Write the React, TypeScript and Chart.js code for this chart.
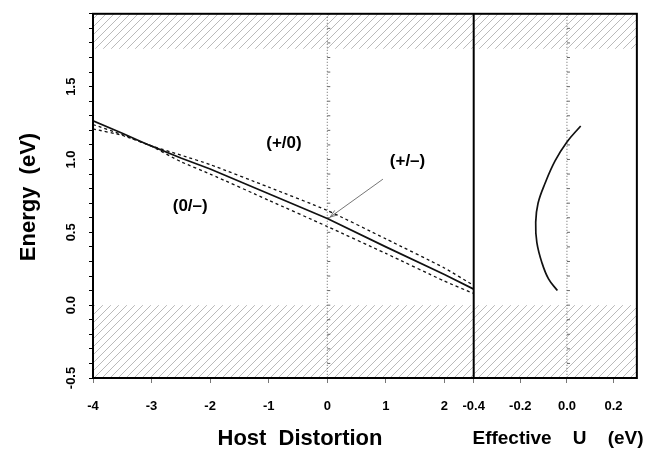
import React, { useEffect, useRef } from 'react';
import { Chart, registerables } from 'chart.js';

Chart.register(...registerables);

// ---- data ----
const hostDistortion = [-4, -3.5, -3.05, -2.5, -2, -1, 0, 1, 2, 2.5];
const levelPlusMinus = [1.265, 1.18, 1.1, 1.01, 0.935, 0.765, 0.595, 0.4, 0.21, 0.11];
const levelPlusZero = [1.24, 1.17, 1.1, 1.03, 0.965, 0.81, 0.65, 0.455, 0.255, 0.135];
const levelZeroMinus = [1.21, 1.165, 1.1, 0.985, 0.9, 0.72, 0.54, 0.355, 0.165, 0.08];

const effectiveU = [0.059, 0.0, -0.051, -0.093, -0.124, -0.134, -0.129, -0.107, -0.079, -0.041];
const effectiveUEnergy = [1.23, 1.12, 0.99, 0.84, 0.7, 0.57, 0.43, 0.29, 0.18, 0.1];

const energyTickLabels = [-0.5, 0, 0.5, 1.0, 1.5];
const hostTickLabels = [-4, -3, -2, -1, 0, 1, 2];
const uTickLabels = [-0.4, -0.2, 0.0, 0.2];

const valenceBandTop = 0;
const conductionBandBottom = 1.76;

const levelLabelTexts = ['(+/0)', '(0/–)', '(+/–)'];
const levelLabelX = [-0.74, -2.34, 1.37];
const levelLabelY = [1.11, 0.68, 0.99];
const arrowFrom = { x: 0.95, y: 0.865 };
const arrowTo = { x: 0.05, y: 0.605 };

const FONT = "'Liberation Sans', Arial, Helvetica, sans-serif";

function makeHatch(): CanvasPattern | string {
  const c = document.createElement('canvas');
  c.width = 8;
  c.height = 8;
  const g = c.getContext('2d');
  if (!g) return '#ddd';
  g.strokeStyle = '#a8a8a8';
  g.lineWidth = 0.8;
  g.beginPath();
  g.moveTo(0, 8);
  g.lineTo(8, 0);
  g.moveTo(-1, 1);
  g.lineTo(1, -1);
  g.moveTo(7, 9);
  g.lineTo(9, 7);
  g.stroke();
  const p = g.createPattern(c, 'repeat');
  return p || '#ddd';
}

const decorPlugin = {
  id: 'decor',
  beforeDatasetsDraw(chart: any) {
    const { ctx, chartArea } = chart;
    const y = chart.scales.y;
    const x1 = chart.scales.x1;
    const x2 = chart.scales.x2;
    ctx.save();
    const hatch = makeHatch();
    ctx.fillStyle = hatch;
    const y0 = y.getPixelForValue(valenceBandTop);
    const y1 = y.getPixelForValue(conductionBandBottom);
    ctx.fillRect(chartArea.left, y0, chartArea.right - chartArea.left, chartArea.bottom - y0);
    ctx.fillRect(chartArea.left, chartArea.top, chartArea.right - chartArea.left, y1 - chartArea.top);

    const zeros = [x1.getPixelForValue(0), x2.getPixelForValue(0)];
    ctx.strokeStyle = '#666';
    ctx.lineWidth = 1;
    for (const zx of zeros) {
      ctx.setLineDash([1, 2]);
      ctx.beginPath();
      ctx.moveTo(zx, chartArea.top);
      ctx.lineTo(zx, chartArea.bottom);
      ctx.stroke();
      ctx.setLineDash([]);
      ctx.beginPath();
      for (const t of y.ticks) {
        const py = y.getPixelForValue(t.value);
        ctx.moveTo(zx, py);
        ctx.lineTo(zx + 3, py);
      }
      ctx.stroke();
    }
    ctx.restore();
  },
  afterDatasetsDraw(chart: any) {
    const { ctx, chartArea } = chart;
    const y = chart.scales.y;
    const x1 = chart.scales.x1;
    ctx.save();
    ctx.strokeStyle = '#000';
    ctx.lineWidth = 2;
    ctx.strokeRect(chartArea.left, chartArea.top, chartArea.right - chartArea.left, chartArea.bottom - chartArea.top);
    ctx.beginPath();
    ctx.moveTo(x1.right, chartArea.top);
    ctx.lineTo(x1.right, chartArea.bottom);
    ctx.stroke();

    ctx.fillStyle = '#000';
    ctx.font = `bold 17px ${FONT}`;
    ctx.textAlign = 'center';
    ctx.textBaseline = 'middle';
    levelLabelTexts.forEach((t, i) => {
      ctx.fillText(t, x1.getPixelForValue(levelLabelX[i]), y.getPixelForValue(levelLabelY[i]));
    });

    const ax0 = x1.getPixelForValue(arrowFrom.x);
    const ay0 = y.getPixelForValue(arrowFrom.y);
    const ax1 = x1.getPixelForValue(arrowTo.x);
    const ay1 = y.getPixelForValue(arrowTo.y);
    ctx.strokeStyle = '#666';
    ctx.lineWidth = 0.9;
    ctx.beginPath();
    ctx.moveTo(ax0, ay0);
    ctx.lineTo(ax1, ay1);
    const ang = Math.atan2(ay1 - ay0, ax1 - ax0);
    const hl = 8;
    ctx.moveTo(ax1 - hl * Math.cos(ang - 0.35), ay1 - hl * Math.sin(ang - 0.35));
    ctx.lineTo(ax1, ay1);
    ctx.lineTo(ax1 - hl * Math.cos(ang + 0.35), ay1 - hl * Math.sin(ang + 0.35));
    ctx.stroke();
    ctx.restore();
  },
  afterDraw(chart: any) {
    const { ctx } = chart;
    ctx.save();
    ctx.fillStyle = '#000';
    ctx.textAlign = 'center';
    ctx.textBaseline = 'middle';
    ctx.font = `bold 22px ${FONT}`;
    ctx.fillText('Host  Distortion', 300, 439);
    ctx.save();
    ctx.translate(29, 197);
    ctx.rotate(-Math.PI / 2);
    ctx.fillText('Energy  (eV)', 0, 0);
    ctx.restore();
    ctx.font = `bold 19px ${FONT}`;
    ctx.fillText('Effective    U    (eV)', 558, 439);
    ctx.restore();
  },
};

export default function App() {
  const ref = useRef<HTMLCanvasElement | null>(null);

  useEffect(() => {
    if (!ref.current) return;
    const tickFont = { family: FONT, size: 13, weight: 'bold' as const };
    const chart = new Chart(ref.current, {
      type: 'line',
      data: {
        datasets: [
          {
            label: '(+/-)',
            data: hostDistortion.map((x, i) => ({ x, y: levelPlusMinus[i] })),
            xAxisID: 'x1',
            yAxisID: 'y',
            borderColor: '#111',
            borderWidth: 1.7,
            pointRadius: 0,
            tension: 0,
          },
          {
            label: '(+/0)',
            data: hostDistortion.map((x, i) => ({ x, y: levelPlusZero[i] })),
            xAxisID: 'x1',
            yAxisID: 'y',
            borderColor: '#111',
            borderWidth: 1.3,
            borderDash: [3, 3],
            pointRadius: 0,
            tension: 0.2,
          },
          {
            label: '(0/-)',
            data: hostDistortion.map((x, i) => ({ x, y: levelZeroMinus[i] })),
            xAxisID: 'x1',
            yAxisID: 'y',
            borderColor: '#111',
            borderWidth: 1.3,
            borderDash: [3, 3],
            pointRadius: 0,
            tension: 0.2,
          },
          {
            label: 'U',
            data: effectiveU.map((x, i) => ({ x, y: effectiveUEnergy[i] })),
            xAxisID: 'x2',
            yAxisID: 'y',
            borderColor: '#111',
            borderWidth: 1.7,
            pointRadius: 0,
            tension: 0.4,
          },
        ],
      },
      options: {
        animation: false,
        responsive: false,
        devicePixelRatio: 1,
        layout: { padding: { top: 6, right: 7, left: 0, bottom: 0 } },
        plugins: { legend: { display: false }, tooltip: { enabled: false } },
        scales: {
          x1: {
            type: 'linear',
            position: 'bottom',
            stack: 'bottom',
            stackWeight: 7,
            min: -4,
            max: 2.5,
            afterFit: (s: any) => {
              s.height = 76;
            },
            border: { display: false },
            grid: { drawOnChartArea: false, drawTicks: true, tickLength: 5, color: '#777' },
            ticks: {
              stepSize: 1,
              includeBounds: false,
              autoSkip: false,
              maxRotation: 0,
              padding: 16,
              color: '#000',
              font: tickFont,
              callback: (v: any) => (hostTickLabels.includes(Number(v)) ? String(v) : ''),
            },
          },
          x2: {
            type: 'linear',
            position: 'bottom',
            stack: 'bottom',
            stackWeight: 3,
            min: -0.4,
            max: 0.3,
            afterFit: (s: any) => {
              s.height = 76;
            },
            border: { display: false },
            grid: { drawOnChartArea: false, drawTicks: true, tickLength: 5, color: '#777' },
            ticks: {
              stepSize: 0.2,
              includeBounds: false,
              autoSkip: false,
              maxRotation: 0,
              padding: 16,
              color: '#000',
              font: tickFont,
              callback: (v: any) => {
                const r = Math.round(Number(v) * 10) / 10;
                return uTickLabels.some((u) => Math.abs(u - r) < 1e-6) ? r.toFixed(1) : '';
              },
            },
          },
          y: {
            type: 'linear',
            position: 'left',
            min: -0.5,
            max: 2.0,
            afterFit: (s: any) => {
              s.width = 93;
            },
            border: { display: false },
            grid: { drawOnChartArea: false, drawTicks: true, tickLength: 4, color: '#000' },
            ticks: {
              stepSize: 0.1,
              autoSkip: false,
              minRotation: 90,
              maxRotation: 90,
              crossAlign: 'center',
              padding: 6,
              color: '#000',
              font: tickFont,
              callback: (v: any) => {
                const r = Math.round(Number(v) * 10) / 10;
                return energyTickLabels.some((e) => Math.abs(e - r) < 1e-6) ? r.toFixed(1) : '';
              },
            },
          },
        },
      },
      plugins: [decorPlugin],
    } as any);
    return () => chart.destroy();
  }, []);

  return (
    <div style={{ position: 'fixed', left: 0, top: 0, width: 650, height: 454, background: '#fff' }}>
      <canvas ref={ref} width={650} height={454} style={{ display: 'block' }} />
    </div>
  );
}
